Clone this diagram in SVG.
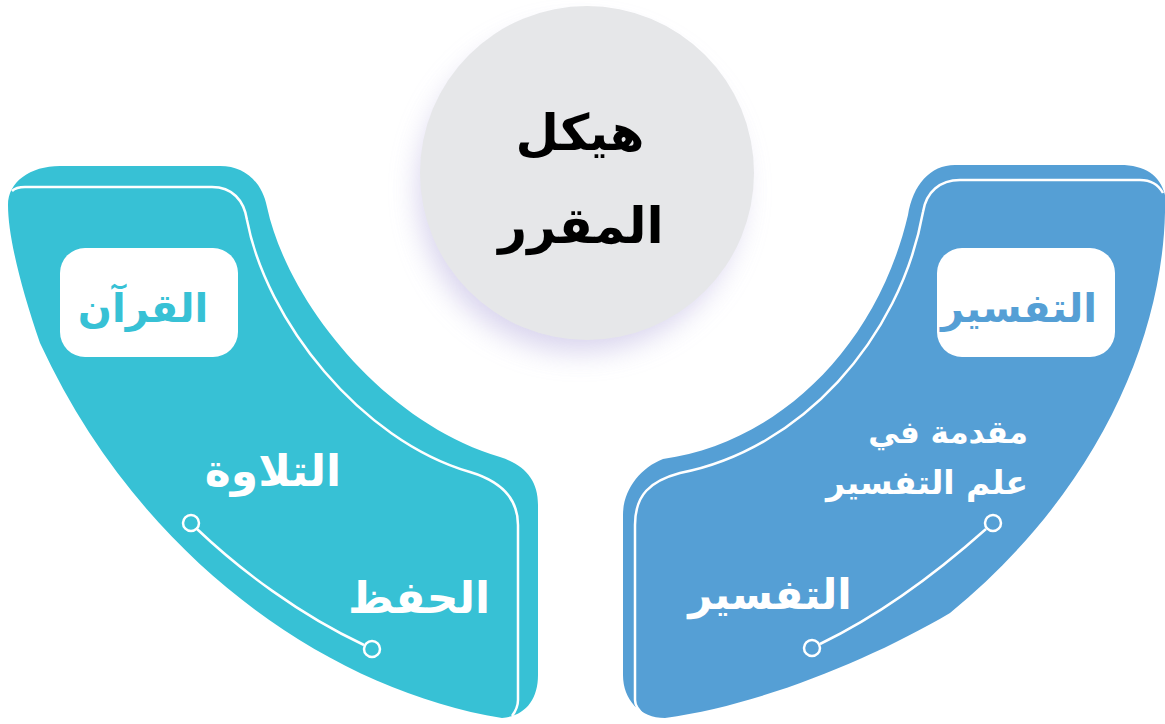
<svg xmlns="http://www.w3.org/2000/svg" width="1165" height="724" viewBox="0 0 1165 724">
<defs>
<style>
.ar{font-family:"DejaVu Sans",sans-serif;font-weight:bold;}
.wl{fill:none;stroke:#ffffff;stroke-width:2.5;}
.dot{fill:none;stroke:#ffffff;stroke-width:2.5;}
.teal{fill:#37C1D5;}
.blue{fill:#559FD5;}
</style>
<filter id="blur" x="-30%" y="-30%" width="160%" height="160%">
<feGaussianBlur stdDeviation="14"/>
</filter>
</defs>
<rect width="1165" height="724" fill="#ffffff"/>
<g id="center-shadow">
<circle cx="580" cy="190" r="162" fill="#CCC6E8" opacity="0.75" filter="url(#blur)"/>
</g>
<g id="node-quran">
<path class="teal" d="M 60,166 L 220,166 C 245,166 262,182 267,207 C 287,300 382,422 500,457 C 525,465 538,480 538,505 L 538,675 C 538,700 525,716 502,718 C 330,690 140,560 40,343 C 20,285 8,235 8,205 C 8,182 30,166 60,166 Z"/>
<path class="wl" d="M 12,191 C 15,188 18,187 25,187 L 212,187 C 232,187 244,200 247,220 C 266,320 360,440 470,472 C 500,481 518,497 518,525 L 518,700 C 518,707 515,712 512,716"/>
<rect x="60" y="248" width="178" height="109" rx="25" fill="#ffffff"/>
<text class="ar" x="143" y="322" font-size="40" fill="#37C1D5" text-anchor="middle">القرآن</text>
</g>
<g id="node-tilawa">
<text class="ar" x="273" y="486" font-size="44" fill="#ffffff" text-anchor="middle">التلاوة</text>
</g>
<g id="node-hifz">
<text class="ar" x="419" y="613" font-size="44" fill="#ffffff" text-anchor="middle">الحفظ</text>
</g>
<g id="node-tafsir">
<path class="blue" d="M 955,165 L 1120,165 C 1145,165 1160,175 1165,195 C 1168,330 1100,490 950,613 C 870,660 760,705 665,718 C 640,718 623,700 623,675 L 623,515 C 623,490 640,468 663,459 C 770,445 875,355 908,215 C 913,185 930,165 955,165 Z"/>
<path class="wl" d="M 1163,193 C 1158,184 1150,180 1140,180 L 960,180 C 940,180 926,192 923,212 C 900,340 800,450 680,473 C 650,481 635,495 635,525 L 635,700 C 635,707 640,712 645,716"/>
<rect x="937" y="248" width="178" height="109" rx="25" fill="#ffffff"/>
<text class="ar" x="1019" y="322" font-size="40" fill="#559FD5" text-anchor="middle">التفسير</text>
</g>
<g id="node-intro">
<text class="ar" x="1028" y="443" font-size="31" fill="#ffffff" text-anchor="end">مقدمة في</text>
<text class="ar" x="1028" y="494" font-size="33" fill="#ffffff" text-anchor="end">علم التفسير</text>
</g>
<g id="node-tafsir2">
<text class="ar" x="770" y="609" font-size="42" fill="#ffffff" text-anchor="middle">التفسير</text>
</g>
<g id="node-center">
<circle cx="587" cy="173" r="167" fill="#E6E7E9"/>
<text class="ar" x="580" y="150" font-size="50" fill="#000000" text-anchor="middle">هيكل</text>
<text class="ar" x="581" y="243" font-size="50" fill="#000000" text-anchor="middle">المقرر</text>
</g>
<g id="connectors">
<path class="wl" d="M 197,529 C 240,570 300,615 364,645"/>
<circle class="dot" cx="191" cy="523" r="8"/>
<circle class="dot" cx="372" cy="649" r="8"/>
<path class="wl" d="M 986,529 C 940,570 880,615 820,644"/>
<circle class="dot" cx="993" cy="523" r="8"/>
<circle class="dot" cx="812" cy="648" r="8"/>
</g>
</svg>
